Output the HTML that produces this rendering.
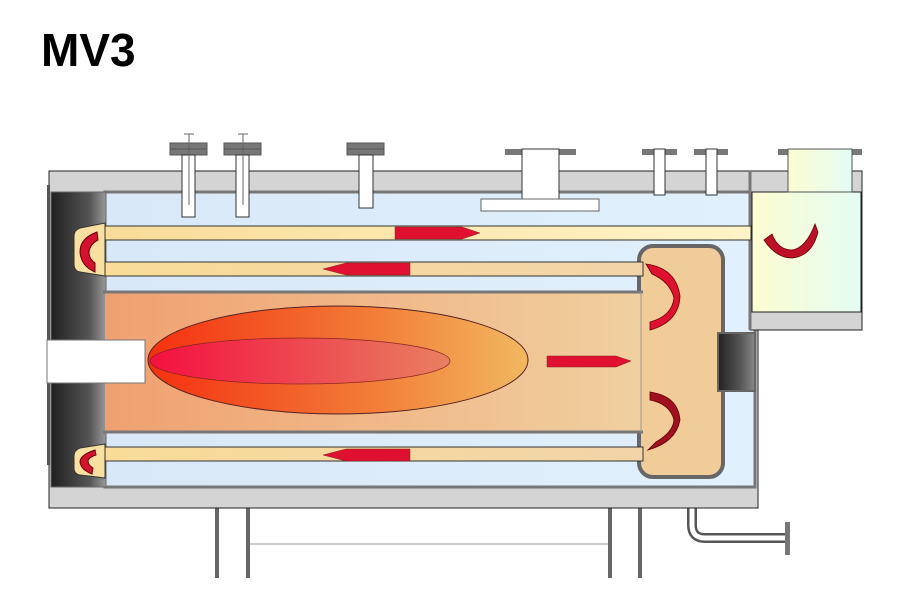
<!DOCTYPE html>
<html><head><meta charset="utf-8"><style>
html,body{margin:0;padding:0;background:#fff;width:900px;height:600px;overflow:hidden}
</style></head><body>
<svg width="900" height="600" viewBox="0 0 900 600" xmlns="http://www.w3.org/2000/svg">
<defs>
<linearGradient id="door" x1="0" x2="1"><stop offset="0" stop-color="#202020"/><stop offset="0.7" stop-color="#555"/><stop offset="1" stop-color="#999"/></linearGradient>
<linearGradient id="door2" x1="0" x2="1"><stop offset="0" stop-color="#222"/><stop offset="0.6" stop-color="#555"/><stop offset="1" stop-color="#888"/></linearGradient>
<linearGradient id="water" x1="0" x2="1"><stop offset="0" stop-color="#d8e8f8"/><stop offset="1" stop-color="#e0f0fc"/></linearGradient>
<linearGradient id="furn" x1="0" x2="1"><stop offset="0" stop-color="#f0a070"/><stop offset="1" stop-color="#f0d0a0"/></linearGradient>
<linearGradient id="tube" x1="0" x2="1"><stop offset="0" stop-color="#f8dc98"/><stop offset="1" stop-color="#fff4c8"/></linearGradient>
<linearGradient id="tube2" x1="0" x2="1"><stop offset="0" stop-color="#f8dc98"/><stop offset="1" stop-color="#f2d4a8"/></linearGradient>
<linearGradient id="flame" x1="0" x2="1"><stop offset="0" stop-color="#f43010"/><stop offset="0.6" stop-color="#f27e38"/><stop offset="1" stop-color="#f2b860"/></linearGradient>
<linearGradient id="flame2" x1="0" x2="1"><stop offset="0" stop-color="#f41040"/><stop offset="1" stop-color="#e88060"/></linearGradient>
<linearGradient id="eco" x1="0" x2="1"><stop offset="0" stop-color="#fcfcd0"/><stop offset="1" stop-color="#e4fcf4"/></linearGradient>
</defs>
<text x="41" y="66" font-family="Liberation Sans, sans-serif" font-weight="bold" font-size="46" fill="#000">MV3</text>

<!-- legs -->
<g stroke="#666" stroke-width="4">
<line x1="217" y1="508" x2="217" y2="578"/><line x1="248" y1="508" x2="248" y2="578"/>
<line x1="610" y1="508" x2="610" y2="578"/><line x1="640" y1="508" x2="640" y2="578"/>
</g>
<line x1="250" y1="544" x2="608" y2="544" stroke="#999" stroke-width="1"/>

<!-- drain pipe -->
<path d="M692 478 V525 Q692 538 705 538 H787" fill="none" stroke="#555" stroke-width="10"/>
<path d="M692 478 V525 Q692 538 705 538 H787" fill="none" stroke="#fff" stroke-width="5"/>
<rect x="785" y="522" width="5" height="33" fill="#777"/>

<!-- outer shell -->
<rect x="49" y="171" width="709" height="337" fill="#d4d4d4" stroke="#222" stroke-width="1"/>
<rect x="47" y="185" width="3" height="280" fill="#555"/>
<rect x="105" y="192" width="650" height="295" fill="url(#water)" stroke="#777" stroke-width="3"/>
<rect x="51" y="192" width="55" height="295" fill="url(#door)" stroke="#666" stroke-width="1"/>

<!-- economizer -->
<rect x="750" y="171" width="112" height="159" fill="#d4d4d4" stroke="#222" stroke-width="1"/>
<rect x="752" y="192" width="109" height="120" fill="url(#eco)" stroke="#222" stroke-width="1"/>
<rect x="778" y="149" width="84" height="6" fill="#777"/>
<rect x="788" y="149" width="64" height="43" fill="url(#eco)" stroke="#555" stroke-width="1"/>
<line x1="750" y1="171" x2="750" y2="330" stroke="#777" stroke-width="3"/>

<!-- top nozzles -->
<g>
<rect x="170" y="143" width="37" height="12" fill="#777" stroke="#555"/>
<rect x="182" y="155" width="13" height="62" fill="#fff" stroke="#333"/>
<line x1="189" y1="134" x2="189" y2="205" stroke="#666"/><line x1="184" y1="134" x2="194" y2="134" stroke="#666"/>
<rect x="224" y="143" width="37" height="12" fill="#777" stroke="#555"/>
<rect x="236" y="155" width="13" height="62" fill="#fff" stroke="#333"/>
<line x1="243" y1="134" x2="243" y2="205" stroke="#666"/><line x1="238" y1="134" x2="248" y2="134" stroke="#666"/>
<rect x="347" y="143" width="37" height="12" fill="#777" stroke="#555"/>
<rect x="359" y="155" width="14" height="53" fill="#fff" stroke="#333"/>
<line x1="170" y1="149" x2="207" y2="149" stroke="#555"/><line x1="224" y1="149" x2="261" y2="149" stroke="#555"/><line x1="347" y1="149" x2="384" y2="149" stroke="#555"/>
<rect x="505" y="149" width="71" height="6" fill="#777"/>
<rect x="522" y="149" width="37" height="50" fill="#fff" stroke="#333"/>
<rect x="481" y="199" width="118" height="12" fill="#fff" stroke="#666"/>
<rect x="642" y="149" width="35" height="6" fill="#777"/>
<rect x="654" y="149" width="11" height="46" fill="#fff" stroke="#333"/>
<rect x="694" y="149" width="34" height="6" fill="#777"/>
<rect x="706" y="149" width="11" height="46" fill="#fff" stroke="#333"/>
</g>

<!-- rear chamber -->
<rect x="639" y="246" width="84" height="231" rx="14" fill="#f0cc98" stroke="#666" stroke-width="4"/>
<rect x="718" y="333" width="37" height="58" fill="url(#door2)" stroke="#666" stroke-width="2"/>

<!-- furnace -->
<rect x="105" y="292" width="536" height="140" fill="url(#furn)"/>
<line x1="103" y1="292" x2="643" y2="292" stroke="#777" stroke-width="3"/>
<line x1="103" y1="432" x2="643" y2="432" stroke="#777" stroke-width="3"/>
<line x1="641" y1="292" x2="641" y2="432" stroke="#999" stroke-width="1"/>

<!-- tubes -->
<rect x="105" y="226" width="646" height="14" fill="url(#tube)" stroke="#333" stroke-width="1"/>
<rect x="105" y="262" width="538" height="14" fill="url(#tube2)" stroke="#333" stroke-width="1"/>
<rect x="105" y="447" width="538" height="14" fill="url(#tube2)" stroke="#333" stroke-width="1"/>

<!-- left return boxes -->
<path d="M105 223 L80 228 Q74 230 74 236 V264 Q74 271 80 272 L105 276 Z" fill="#f8e0a0" stroke="#333"/>
<path d="M105 444 L80 448 Q74 450 74 456 V468 Q74 474 80 475 L105 478 Z" fill="#f8e0a0" stroke="#333"/>
<path d="M97 232 Q80 238 80 252 Q81 266 95 272 L95 263 Q89 259 89 252 Q90 244 98 240 Z" fill="#d81030" stroke="#600"/>
<path d="M95 450 Q80 455 80 462 Q81 470 92 474 L93 468 Q88 465 88 461 Q89 457 96 455 Z" fill="#d81030" stroke="#600"/>

<!-- burner -->
<rect x="47" y="340" width="98" height="43" fill="#fff" stroke="#777"/>

<!-- flame -->
<ellipse cx="338" cy="360" rx="190" ry="54" fill="url(#flame)" stroke="#522" stroke-width="1"/>
<ellipse cx="300" cy="361" rx="150" ry="23" fill="url(#flame2)" stroke="#822" stroke-width="0.7"/>

<!-- straight arrows -->
<path d="M395 227 H462 L480 233 L462 239 H395 Z" fill="#e01030" stroke="#822" stroke-width="0.5"/>
<path d="M410 263 H346 L323 269 L346 275 H410 Z" fill="#e01030" stroke="#822" stroke-width="0.5"/>
<path d="M410 449 H346 L323 455 L346 461 H410 Z" fill="#e01030" stroke="#822" stroke-width="0.5"/>
<path d="M547 356 H616 L631 361 L616 367 H547 Z" fill="#e01030" stroke="#822" stroke-width="0.5"/>

<!-- rear curved arrows -->
<path d="M646 264 Q676 268 680 296 Q679 322 650 330 L650 322 Q672 316 674 298 Q670 282 652 274 Z" fill="#e01030" stroke="#600" stroke-width="0.8"/>
<path d="M650 392 Q678 396 680 420 Q676 442 648 450 L656 442 Q673 432 674 420 Q670 404 650 400 Z" fill="#a01020" stroke="#600" stroke-width="0.8"/>
<path d="M764 240 Q776 258 792 258 Q812 256 818 232 L815 224 Q806 248 792 250 Q778 250 772 234 Z" fill="#c01028" stroke="#600" stroke-width="0.8"/>
</svg>
</body></html>
